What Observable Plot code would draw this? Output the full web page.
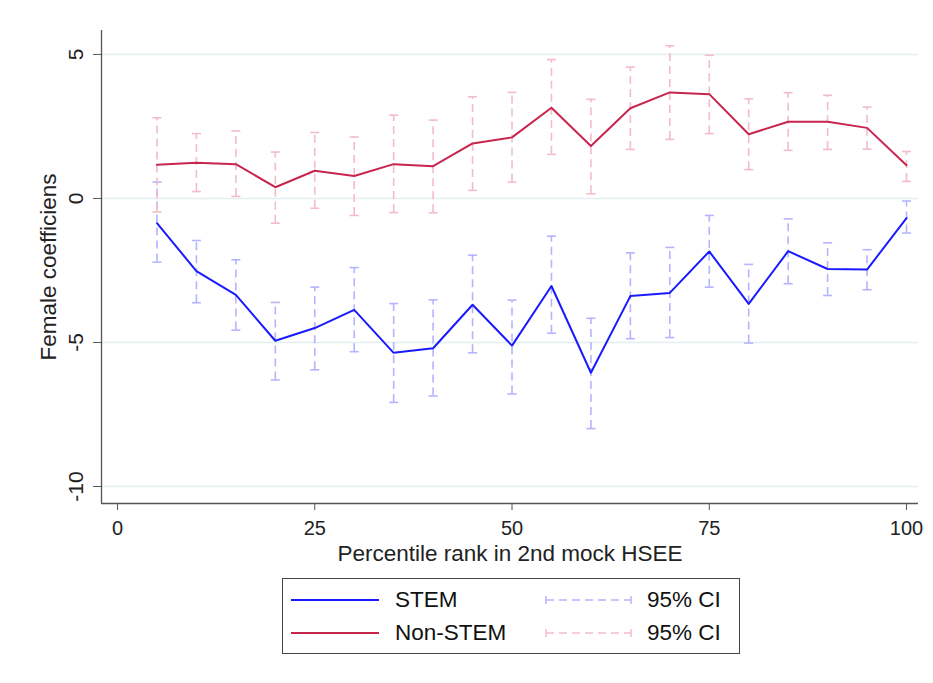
<!DOCTYPE html>
<html>
<head>
<meta charset="utf-8">
<script src="https://cdn.jsdelivr.net/npm/d3@7"></script>
<script src="https://cdn.jsdelivr.net/npm/@observablehq/plot@0.6"></script>
<style>
  html, body { margin: 0; padding: 0; background: #ffffff; }
  body { width: 933px; height: 683px; position: relative; overflow: hidden; font-family: "Liberation Sans", Arial, sans-serif; }
  #chart { position: absolute; left: 0; top: 0; }
  #legend { position: absolute; left: 282px; top: 578px; width: 458px; height: 76px; border: 1.5px solid #444; box-sizing: border-box; background: #fff; }
  .row { position: absolute; left: 0; height: 30px; width: 100%; }
  .row svg { position: absolute; top: 0; }
  .row span { position: absolute; font-size: 22.5px; color: #111; line-height: 30px; top: 0; }
</style>
</head>
<body>
<div id="chart"></div>
<div id="legend">
  <div class="row" style="top:6px">
    <svg style="left:8px" width="90" height="30"><line x1="0" y1="15" x2="88" y2="15" stroke="#1a1aff" stroke-width="2"/></svg>
    <span style="left:112px">STEM</span>
    <svg style="left:262px" width="90" height="30"><line x1="1" y1="15" x2="86" y2="15" stroke="#b4b4ff" stroke-width="1.5" stroke-dasharray="8,5"/><line x1="1" y1="11" x2="1" y2="19" stroke="#b4b4ff" stroke-width="1.5"/><line x1="86" y1="11" x2="86" y2="19" stroke="#b4b4ff" stroke-width="1.5"/></svg>
    <span style="left:364px">95% CI</span>
  </div>
  <div class="row" style="top:39px">
    <svg style="left:8px" width="90" height="30"><line x1="0" y1="15" x2="88" y2="15" stroke="#c8254d" stroke-width="2"/></svg>
    <span style="left:112px">Non-STEM</span>
    <svg style="left:262px" width="90" height="30"><line x1="1" y1="15" x2="86" y2="15" stroke="#f2bccb" stroke-width="1.5" stroke-dasharray="8,5"/><line x1="1" y1="11" x2="1" y2="19" stroke="#f2bccb" stroke-width="1.5"/><line x1="86" y1="11" x2="86" y2="19" stroke="#f2bccb" stroke-width="1.5"/></svg>
    <span style="left:364px">95% CI</span>
  </div>
</div>
<script>
// Percentile ranks
const ranks = [5, 10, 15, 20, 25, 30, 35, 40, 45, 50, 55, 60, 65, 70, 75, 80, 85, 90, 95, 100];

// STEM coefficients and 95% CI bounds
const stemCoef = [-0.86, -2.52, -3.35, -4.94, -4.50, -3.87, -5.36, -5.20, -3.69, -5.11, -3.04, -6.05, -3.39, -3.28, -1.84, -3.66, -1.83, -2.45, -2.47, -0.68];
const stemLo   = [-2.21, -3.62, -4.57, -6.30, -5.95, -5.32, -7.08, -6.86, -5.36, -6.79, -4.68, -7.99, -4.87, -4.83, -3.08, -5.02, -2.96, -3.37, -3.17, -1.20];
const stemHi   = [ 0.57, -1.46, -2.13, -3.61, -3.08, -2.40, -3.65, -3.52, -1.97, -3.53, -1.31, -4.16, -1.89, -1.70, -0.59, -2.29, -0.71, -1.54, -1.78, -0.09];

// Non-STEM coefficients and 95% CI bounds
const nonCoef = [1.17, 1.24, 1.19, 0.39, 0.96, 0.78, 1.19, 1.12, 1.91, 2.12, 3.15, 1.82, 3.13, 3.68, 3.62, 2.23, 2.66, 2.66, 2.45, 1.15];
const nonLo   = [-0.47, 0.24, 0.07, -0.86, -0.34, -0.59, -0.49, -0.50, 0.28, 0.57, 1.53, 0.16, 1.70, 2.05, 2.25, 1.00, 1.67, 1.70, 1.71, 0.59];
const nonHi   = [2.80, 2.25, 2.34, 1.61, 2.29, 2.13, 2.89, 2.72, 3.53, 3.68, 4.82, 3.44, 4.56, 5.30, 4.97, 3.46, 3.67, 3.58, 3.17, 1.63];

const yTicks = [-10, -5, 0, 5];
const xTicks = [0, 25, 50, 75, 100];

const stem = ranks.map((x, i) => ({x, coef: stemCoef[i], lo: stemLo[i], hi: stemHi[i]}));
const non = ranks.map((x, i) => ({x, coef: nonCoef[i], lo: nonLo[i], hi: nonHi[i]}));

const blue = "#1a1aff", blueCI = "#b4b4ff";
const red = "#c8254d", redCI = "#f2bccb";

const cap = { draw(ctx) { ctx.moveTo(-4.5, 0); ctx.lineTo(4.5, 0); } };

const xDom = [-2.03, 101.52];
const yDom = [-10.59, 5.83];

function ciMarks(data, c) {
  return [
    Plot.ruleX(data, {x: "x", y1: "lo", y2: "hi", stroke: c, strokeWidth: 1.6, strokeDasharray: "8,5"}),
    Plot.dot(data, {x: "x", y: "lo", symbol: cap, stroke: c, strokeWidth: 1.6, fill: "none"}),
    Plot.dot(data, {x: "x", y: "hi", symbol: cap, stroke: c, strokeWidth: 1.6, fill: "none"})
  ];
}

const fmt = d => String(d);

const chart = Plot.plot({
  width: 933,
  height: 575,
  marginLeft: 101,
  marginRight: 15,
  marginTop: 30,
  marginBottom: 72,
  style: {fontFamily: "Liberation Sans, Arial, sans-serif", fontSize: "20px", color: "#222", background: "transparent"},
  x: {domain: xDom},
  y: {domain: yDom},
  marks: [
    Plot.gridY(yTicks, {stroke: "#e2eef0", strokeOpacity: 1, strokeWidth: 1.5}),
    ...ciMarks(stem, blueCI),
    ...ciMarks(non, redCI),
    Plot.line(stem, {x: "x", y: "coef", stroke: blue, strokeWidth: 2}),
    Plot.line(non, {x: "x", y: "coef", stroke: red, strokeWidth: 2}),
    Plot.ruleX([xDom[0]], {stroke: "#555", strokeWidth: 1.3}),
    Plot.ruleY([yDom[0]], {stroke: "#555", strokeWidth: 1.3}),
    Plot.axisY(yTicks, {tickSize: 8, tickRotate: -90, tickPadding: 11, tickFormat: fmt, label: null, stroke: "#555", fontSize: 21}),
    Plot.axisX(xTicks, {tickSize: 7, tickPadding: 10, tickFormat: fmt, label: null, stroke: "#555", fontSize: 20}),
    Plot.text(["Female coefficiens"], {frameAnchor: "left", dx: -53, rotate: -90, textAnchor: "middle", fontSize: 22.5, fill: "#222"}),
    Plot.text(["Percentile rank in 2nd mock HSEE"], {frameAnchor: "bottom", dy: 57, textAnchor: "middle", fontSize: 22.5, fill: "#222"})
  ]
});
document.getElementById("chart").appendChild(chart);
</script>
</body>
</html>
